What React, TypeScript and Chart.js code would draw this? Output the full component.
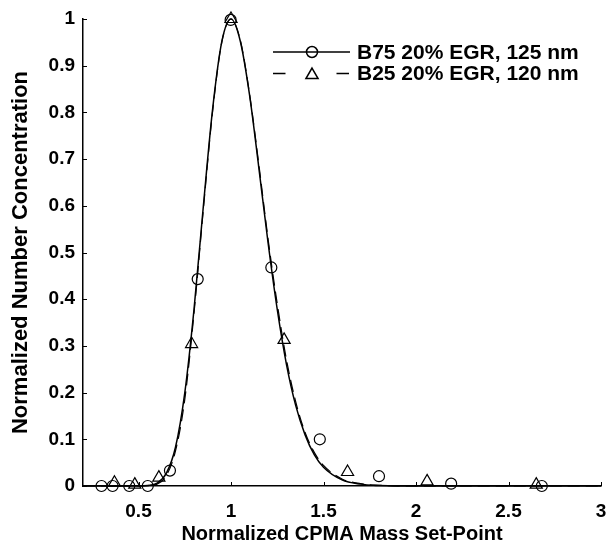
import React, { useEffect, useRef } from "react";
import { Chart, registerables } from "chart.js";

Chart.register(...registerables);

// ---- data ----
const b75MarkerX = [0.3, 0.36, 0.45, 0.55, 0.67, 0.82, 0.998, 1.218, 1.48, 1.8, 2.19, 2.68];
const b75MarkerY = [0.0, 0.0, 0.0, 0.0, 0.033, 0.443, 0.998, 0.468, 0.1, 0.021, 0.005, 0.0];

const b25MarkerX = [0.37, 0.48, 0.61, 0.787, 1.0, 1.287, 1.63, 2.06, 2.65];
const b25MarkerY = [0.007, 0.003, 0.018, 0.304, 1.0, 0.313, 0.03, 0.01, 0.003];

const fitX = [0.2, 0.5, 0.55, 0.6, 0.65, 0.7, 0.75, 0.8, 0.85, 0.9, 0.95, 1.0, 1.05, 1.1, 1.15, 1.2, 1.25, 1.3, 1.35, 1.4, 1.45, 1.5, 1.6, 1.7, 1.8, 1.9, 3.0];
const b75FitY = [0, 0, 0.001, 0.006, 0.027, 0.083, 0.199, 0.378, 0.597, 0.805, 0.951, 1.0, 0.953, 0.838, 0.683, 0.522, 0.378, 0.26, 0.172, 0.11, 0.067, 0.04, 0.013, 0.004, 0.001, 0, 0];
const b25FitY = [0, 0, 0.001, 0.004, 0.022, 0.075, 0.185, 0.37, 0.59, 0.8, 0.95, 1.0, 0.955, 0.84, 0.69, 0.53, 0.39, 0.27, 0.18, 0.115, 0.072, 0.044, 0.015, 0.005, 0.0015, 0, 0];

const legendLabels = ["B75 20% EGR, 125 nm", "B25 20% EGR, 120 nm"];

const xTickValues = [0.5, 1, 1.5, 2, 2.5, 3];
const xTickLabels = ["0.5", "1", "1.5", "2", "2.5", "3"];
const yTickValues = [0, 0.1, 0.2, 0.3, 0.4, 0.5, 0.6, 0.7, 0.8, 0.9, 1];
const yTickLabels = ["0", "0.1", "0.2", "0.3", "0.4", "0.5", "0.6", "0.7", "0.8", "0.9", "1"];

const xTitle = "Normalized CPMA Mass Set-Point";
const yTitle = "Normalized Number Concentration";

const FONT = "'Liberation Sans', Arial, sans-serif";

const toPoints = (xs: number[], ys: number[]) => xs.map((x, i) => ({ x, y: ys[i] }));

function drawMarker(ctx: CanvasRenderingContext2D, kind: string, x: number, y: number, r: number) {
  ctx.beginPath();
  if (kind === "circle") {
    ctx.arc(x, y, r, 0, Math.PI * 2);
  } else {
    let rad = 0;
    ctx.moveTo(x + Math.sin(rad) * r, y - Math.cos(rad) * r);
    rad += (2 * Math.PI) / 3;
    ctx.lineTo(x + Math.sin(rad) * r, y - Math.cos(rad) * r);
    rad += (2 * Math.PI) / 3;
    ctx.lineTo(x + Math.sin(rad) * r, y - Math.cos(rad) * r);
    ctx.closePath();
  }
  ctx.stroke();
}

const decorPlugin = {
  id: "decor",
  afterDraw(chart: any) {
    const { ctx, chartArea, scales } = chart;
    const xs = scales.x;
    const ys = scales.y;
    ctx.save();
    ctx.strokeStyle = "#000";
    ctx.lineWidth = 1;
    // inward tick marks
    xTickValues.forEach((v) => {
      const px = Math.round(xs.getPixelForValue(v)) + 0.5;
      ctx.beginPath();
      ctx.moveTo(px, chartArea.bottom);
      ctx.lineTo(px, chartArea.bottom - 4);
      ctx.stroke();
    });
    yTickValues.forEach((v) => {
      const py = Math.round(ys.getPixelForValue(v)) + 0.5;
      ctx.beginPath();
      ctx.moveTo(chartArea.left, py);
      ctx.lineTo(chartArea.left + 4, py);
      ctx.stroke();
    });

    // legend
    const lx0 = chartArea.right - 328;
    const rows = [
      { y: chartArea.top + 33, kind: "circle", r: 5.5, dash: [] as number[] },
      { y: chartArea.top + 54.5, kind: "triangle", r: 7, dash: [12.5, 51] },
    ];
    rows.forEach((row, i) => {
      ctx.lineWidth = 1.5;
      ctx.setLineDash(row.dash);
      ctx.beginPath();
      ctx.moveTo(lx0, row.y);
      ctx.lineTo(lx0 + 77, row.y);
      ctx.stroke();
      ctx.setLineDash([]);
      ctx.lineWidth = 1.5;
      drawMarker(ctx, row.kind, lx0 + 39, row.y + (row.kind === "triangle" ? 1.5 : 0), row.r);
      ctx.fillStyle = "#000";
      ctx.font = `bold 21px ${FONT}`;
      ctx.textAlign = "left";
      ctx.textBaseline = "middle";
      ctx.fillText(legendLabels[i], lx0 + 84, row.y + 1);
    });
    ctx.restore();
  },
};

export default function App() {
  const ref = useRef<HTMLCanvasElement | null>(null);
  useEffect(() => {
    if (!ref.current) return;
    const chart = new Chart(ref.current, {
      type: "scatter",
      data: {
        datasets: [
          {
            label: "b75fit",
            data: toPoints(fitX, b75FitY),
            showLine: true,
            borderColor: "#000",
            borderWidth: 1.5,
            pointRadius: 0,
            cubicInterpolationMode: "monotone",
            fill: false,
          },
          {
            label: "b25fit",
            data: toPoints(fitX, b25FitY),
            showLine: true,
            borderColor: "#000",
            borderWidth: 1.2,
            borderDash: [12, 6],
            pointRadius: 0,
            cubicInterpolationMode: "monotone",
            fill: false,
          },
          {
            label: legendLabels[0],
            data: toPoints(b75MarkerX, b75MarkerY),
            showLine: false,
            pointStyle: "circle",
            pointRadius: 5.5,
            pointBorderColor: "#000",
            pointBackgroundColor: "rgba(0,0,0,0)",
            pointBorderWidth: 1.2,
          },
          {
            label: legendLabels[1],
            data: toPoints(b25MarkerX, b25MarkerY),
            showLine: false,
            pointStyle: "triangle",
            pointRadius: 7,
            pointBorderColor: "#000",
            pointBackgroundColor: "rgba(0,0,0,0)",
            pointBorderWidth: 1.2,
          },
        ],
      },
      options: {
        animation: false,
        responsive: false,
        clip: false as any,
        layout: { padding: { left: 0, top: 19, right: 9, bottom: 0 } },
        plugins: { legend: { display: false }, tooltip: { enabled: false } },
        scales: {
          x: {
            type: "linear",
            min: 0.2,
            max: 3,
            grid: { display: false, drawTicks: false },
            border: { display: true, color: "#000", width: 1.5 },
            afterBuildTicks: (s: any) => {
              s.ticks = xTickValues.map((v) => ({ value: v }));
            },
            afterFit: (s: any) => {
              s.height = 62;
              s.paddingLeft = 0;
              s.paddingRight = 0;
            },
            ticks: {
              color: "#000",
              padding: 14,
              maxRotation: 0,
              autoSkip: false,
              font: { family: FONT, size: 19, weight: "bold" },
              callback: (v: any) => {
                const i = xTickValues.indexOf(Number(v));
                return i >= 0 ? xTickLabels[i] : "";
              },
            },
            title: {
              display: true,
              text: xTitle,
              color: "#000",
              font: { family: FONT, size: 20, weight: "bold" },
              padding: { top: 0, bottom: 2 },
            },
          },
          y: {
            type: "linear",
            min: 0,
            max: 1,
            grid: { display: false, drawTicks: false },
            border: { display: true, color: "#000", width: 1.5 },
            afterBuildTicks: (s: any) => {
              s.ticks = yTickValues.map((v) => ({ value: v }));
            },
            afterFit: (s: any) => {
              s.width = 83;
              s.paddingTop = 0;
              s.paddingBottom = 0;
            },
            ticks: {
              color: "#000",
              padding: 8,
              autoSkip: false,
              font: { family: FONT, size: 19, weight: "bold" },
              callback: (v: any) => {
                const i = yTickValues.findIndex((t) => Math.abs(t - Number(v)) < 1e-9);
                return i >= 0 ? yTickLabels[i] : "";
              },
            },
            title: {
              display: true,
              text: yTitle,
              color: "#000",
              font: { family: FONT, size: 22, weight: "bold" },
              padding: { top: 8, bottom: 0 },
            },
          },
        },
      },
      plugins: [decorPlugin],
    } as any);
    return () => chart.destroy();
  }, []);

  return (
    <div style={{ position: "absolute", left: 0, top: 0, width: 610, height: 548, background: "#fff" }}>
      <canvas ref={ref} width={610} height={548} style={{ display: "block" }} />
    </div>
  );
}
